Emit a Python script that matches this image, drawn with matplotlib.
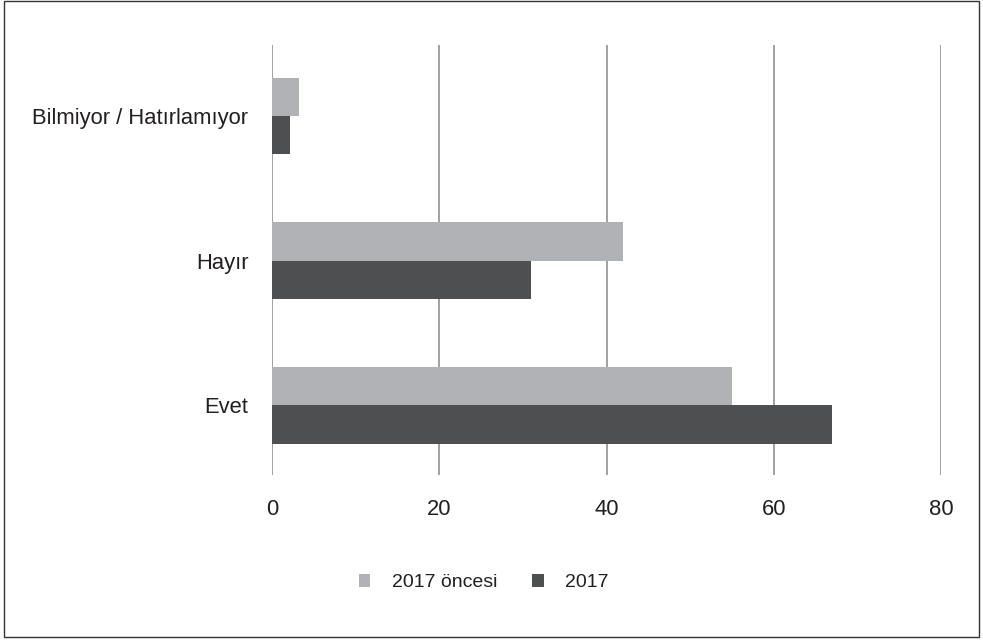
import matplotlib.pyplot as plt
from matplotlib.patches import Rectangle
import numpy as np

plt.rcParams['font.family'] = ['Liberation Sans', 'DejaVu Sans']

categories = ['Evet', 'Hayır', 'Bilmiyor / Hatırlamıyor']
once_2017 = [55, 42, 3.2]
yil_2017 = [67, 31, 2.1]
series_names = ['2017 öncesi', '2017']
xticks = [0, 20, 40, 60, 80]

light = '#b1b2b5'
dark = '#4e4f51'
text_col = '#231f20'

fig = plt.figure(figsize=(9.83, 6.41), dpi=100)
ax = fig.add_axes([0.2767, 0.259, 0.6806, 0.6708])

y = np.arange(len(categories))
h = 0.265
ax.barh(y + h / 2, once_2017, height=h, color=light, label=series_names[0], zorder=3)
ax.barh(y - h / 2, yil_2017, height=h, color=dark, label=series_names[1], zorder=3)

ax.set_xlim(0, 80)
ax.set_ylim(-0.48, 2.49)
ax.set_xticks(xticks)
ax.set_yticks(y)
ax.set_yticklabels(categories)
ax.xaxis.grid(True, color='#9a9a9a', linewidth=1.3)
ax.set_axisbelow(True)
for s in ax.spines.values():
    s.set_visible(False)
ax.tick_params(axis='both', length=0, labelsize=15.8, colors=text_col)
ax.tick_params(axis='x', pad=17)
ax.tick_params(axis='y', pad=17)

fig.legend(loc='center', bbox_to_anchor=(0.492, 0.091), ncol=2, frameon=False,
           fontsize=14, handlelength=0.6, handleheight=0.6, columnspacing=1.8,
           handletextpad=1.1, labelcolor=text_col)

# thin frame around the whole figure
fig.patches.append(Rectangle((0.004, 0.006), 0.992, 0.992, transform=fig.transFigure,
                             fill=False, edgecolor='#333333', linewidth=1.0))

fig.savefig('out.png', dpi=100)
